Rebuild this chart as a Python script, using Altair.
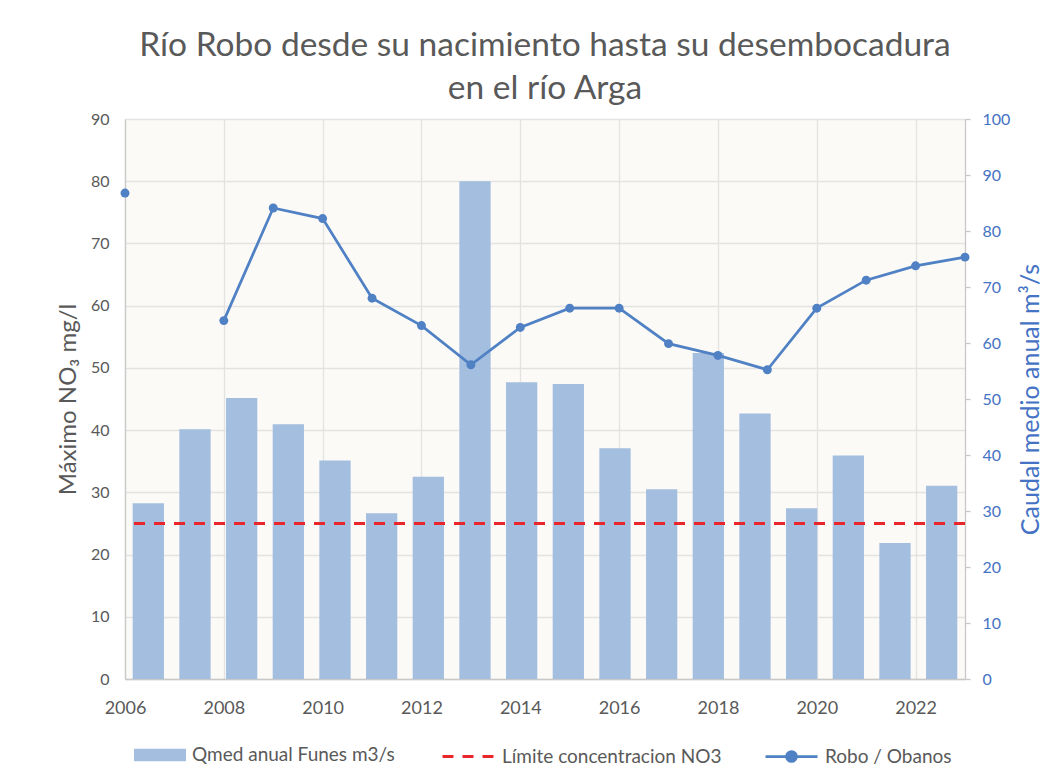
import altair as alt
import pandas as pd

# ---- data ----
years = list(range(2006, 2024))
caudal = [31.4, 44.6, 50.2, 45.5, 39.0, 29.6, 36.1, 88.9, 53.0, 52.7,
          41.2, 33.9, 58.2, 47.4, 30.5, 39.9, 24.3, 34.5]
nitrato = [78.1, None, 57.6, 75.7, 74.0, 61.2, 56.8, 50.5, 56.5, 59.6,
           59.6, 53.9, 52.0, 49.7, 59.6, 64.1, 66.4, 67.8]
limite_no3 = [25]
x_ticks = [2006, 2008, 2010, 2012, 2014, 2016, 2018, 2020, 2022]
left_ticks = [0, 10, 20, 30, 40, 50, 60, 70, 80, 90]
right_ticks = [0, 10, 20, 30, 40, 50, 60, 70, 80, 90, 100]
label_q = "Qmed anual Funes m3/s"
label_lim = "Límite concentracion NO3"
label_robo = "Robo / Obanos"
title_lines = ["Río Robo desde su nacimiento hasta su desembocadura", "en el río Arga"]

df = pd.DataFrame({"year": years, "caudal": caudal, "nitrato": nitrato})
df["serie_q"] = label_q
df["serie_robo"] = label_robo
df_lim = pd.DataFrame({"limite": limite_no3, "serie_lim": [label_lim]})

FONT = "Lato"
GRAY = "#595959"
BLUE_AX = "#4472C4"
BAR = "#A3BEDF"
LINE = "#4F81C4"
RED = "#E8262B"
GRID = "#E3E3E3"
AXLINE = "#C8C8C8"
LEG_FS = 19

left_axis = alt.Axis(orient="left", title="Máximo NO₃ mg/l", values=left_ticks,
                     grid=True, gridColor=GRID, gridWidth=1.3, ticks=False,
                     domain=True, domainColor=AXLINE, domainWidth=1.3,
                     labelColor=GRAY, labelFont=FONT, labelFontSize=16, labelPadding=16,
                     titleColor=GRAY, titleFont=FONT, titleFontSize=24,
                     titleFontWeight="normal", titlePadding=10)
left_scale = alt.Scale(domain=[0, 90], nice=False)

bars = alt.Chart(df).mark_bar().encode(
    x=alt.X("year:O", axis=None,
            scale=alt.Scale(paddingInner=0.33, paddingOuter=0.165)),
    y=alt.Y("caudal:Q", scale=alt.Scale(domain=[0, 100], nice=False),
            axis=alt.Axis(orient="right", title="Caudal medio anual m³/s",
                          values=right_ticks, grid=False,
                          domain=True, domainColor=AXLINE, domainWidth=1.3,
                          ticks=True, tickColor=AXLINE, tickSize=5, tickWidth=1.3,
                          labelColor=BLUE_AX, labelFont=FONT, labelFontSize=16,
                          labelPadding=12,
                          titleColor=BLUE_AX, titleFont=FONT, titleFontSize=25,
                          titleFontWeight="normal", titleAngle=270, titlePadding=34)),
    fill=alt.Fill("serie_q:N",
                  scale=alt.Scale(domain=[label_q], range=[BAR]),
                  legend=alt.Legend(orient="none", legendX=9, legendY=610, title=None,
                                    symbolType="M-1,-0.245H1V0.245H-1Z", symbolSize=2704,
                                    symbolStrokeWidth=0, labelLimit=400,
                                    labelFont=FONT, labelFontSize=LEG_FS, labelColor=GRAY,
                                    labelOffset=6)),
)

line = alt.Chart(df).mark_line(
    strokeWidth=2.75, invalid="break-paths-filter-domains",
    point=alt.OverlayMarkDef(size=80, filled=True, opacity=1),
).encode(
    x=alt.X("year:Q", scale=alt.Scale(domain=[2006, 2023], nice=False, zero=False),
            axis=alt.Axis(values=x_ticks, format="d", title=None, grid=True,
                          gridColor=GRID, gridWidth=1.3, ticks=False, labelFlush=False,
                          domain=True, domainColor=AXLINE, domainWidth=1.3,
                          labelColor=GRAY, labelFont=FONT, labelFontSize=18,
                          labelPadding=20)),
    y=alt.Y("nitrato:Q", scale=left_scale, axis=left_axis),
    color=alt.Color("serie_robo:N",
                    scale=alt.Scale(domain=[label_robo], range=[LINE]),
                    legend=alt.Legend(orient="none", legendX=639, legendY=610, title=None,
                                      symbolType="M-1,0H1M0.19,0A0.19,0.19,0,1,1,-0.19,0A0.19,0.19,0,1,1,0.19,0Z",
                                      symbolSize=2704, symbolStrokeWidth=2.75,
                                      symbolFillColor=LINE, symbolStrokeColor=LINE,
                                      labelLimit=400,
                                      labelFont=FONT, labelFontSize=LEG_FS, labelColor=GRAY,
                                      labelOffset=6)),
)

rule = alt.Chart(df_lim).mark_rule(strokeWidth=3, strokeDash=[11, 9]).encode(
    y=alt.Y("limite:Q", scale=left_scale, axis=left_axis),
    stroke=alt.Stroke("serie_lim:N",
                      scale=alt.Scale(domain=[label_lim], range=[RED]),
                      legend=alt.Legend(orient="none", legendX=316, legendY=610, title=None,
                                        symbolType="stroke", symbolSize=2704,
                                        symbolDash=[11, 9], symbolStrokeWidth=3,
                                        labelLimit=400,
                                        labelFont=FONT, labelFontSize=LEG_FS, labelColor=GRAY,
                                        labelOffset=6)),
)

inner = alt.layer(line, rule)

chart = alt.layer(bars, inner).resolve_scale(
    x="independent", y="independent"
).properties(
    width=840, height=560,
    padding={"left": 117, "top": 111, "right": 87, "bottom": 94},
    autosize=alt.AutoSizeParams(type="none"),
    title=alt.TitleParams(text=title_lines, font=FONT, fontSize=33.5, color=GRAY,
                          fontWeight="normal", anchor="middle", lineHeight=43,
                          offset=5, frame="group"),
    background="white",
).configure_view(fill="#FBFAF6", stroke="transparent")

chart.save("out.html", embed_options={"renderer": "svg", "actions": False})
